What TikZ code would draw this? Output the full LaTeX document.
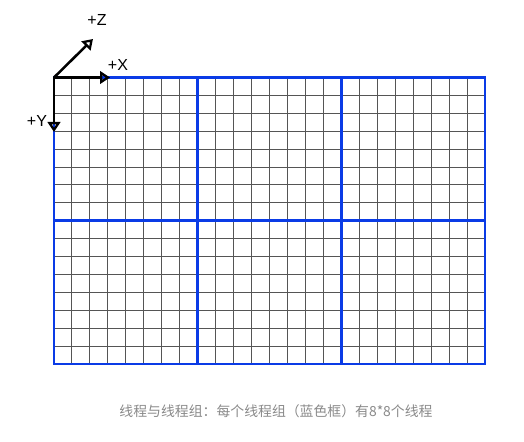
\documentclass[tikz,border=0pt]{standalone}
\usepackage{fontspec}
\setmainfont{Liberation Sans}
\newfontfamily\cjk{Noto Sans CJK SC}
\usetikzlibrary{arrows.meta}
\definecolor{gridgray}{HTML}{555555}
\definecolor{blockblue}{HTML}{0A3BE6}
\definecolor{captiongray}{HTML}{8A8A8A}
\tikzset{
  gridline/.style={draw=gridgray, line width=0.75pt},
  blockline/.style={draw=blockblue, line width=2pt},
  axis/.style={draw=black, line width=1.9pt, -{Triangle[open, length=7.5pt, width=9.5pt, line width=1.7pt]}},
  axislabel/.style={font=\fontsize{12}{14}\selectfont, inner sep=0pt},
  caption/.style={font=\cjk\fontsize{10.4}{12}\selectfont, text=captiongray, inner sep=0pt}
}
\begin{document}
\begin{tikzpicture}[x=0.75pt, y=-0.75pt]
\useasboundingbox (0,0) rectangle (524,442);
\fill[white] (0,0) rectangle (524,442);
% thin grid: 24 columns x 16 rows, snapped to pixel centres
\pgfmathsetmacro{\dx}{(485-54)/24}
\pgfmathsetmacro{\dy}{(364-77.5)/16}
\foreach \i in {1,...,23} {
  \pgfmathsetmacro{\xx}{floor(54+\i*\dx)+0.5}
  \draw[gridline] (\xx,77.5) -- (\xx,364);
}
\foreach \j in {1,...,15} {
  \pgfmathsetmacro{\yy}{floor(77.5+\j*\dy)+0.5}
  \draw[gridline] (54,\yy) -- (485,\yy);
}
% blue blocks
\foreach \i in {0,1,2} {
  \foreach \j in {0,1} {
    \draw[blockline] ({54+\i*8*\dx},{77.5+\j*8*\dy}) rectangle ({54+(\i+1)*8*\dx},{77.5+(\j+1)*8*\dy});
  }
}
% axes
\coordinate (o) at (54,77.5);
\coordinate (xt) at (110,77.5);
\coordinate (yt) at (54,132);
\coordinate (zt) at (93,39);
\draw[axis] (o) -- (xt);
\draw[axis] (o) -- (yt);
\draw[axis] (o) -- (zt);
\node[axislabel] (xl) at (118,65) {+X};
\node[axislabel] (yl) at (37,121) {+Y};
\node[axislabel] (zl) at (97,20) {+Z};
% caption
\node[caption] (cap) at (276,411) {线程与线程组：每个线程组（蓝色框）有8*8个线程};
\end{tikzpicture}
\end{document}
